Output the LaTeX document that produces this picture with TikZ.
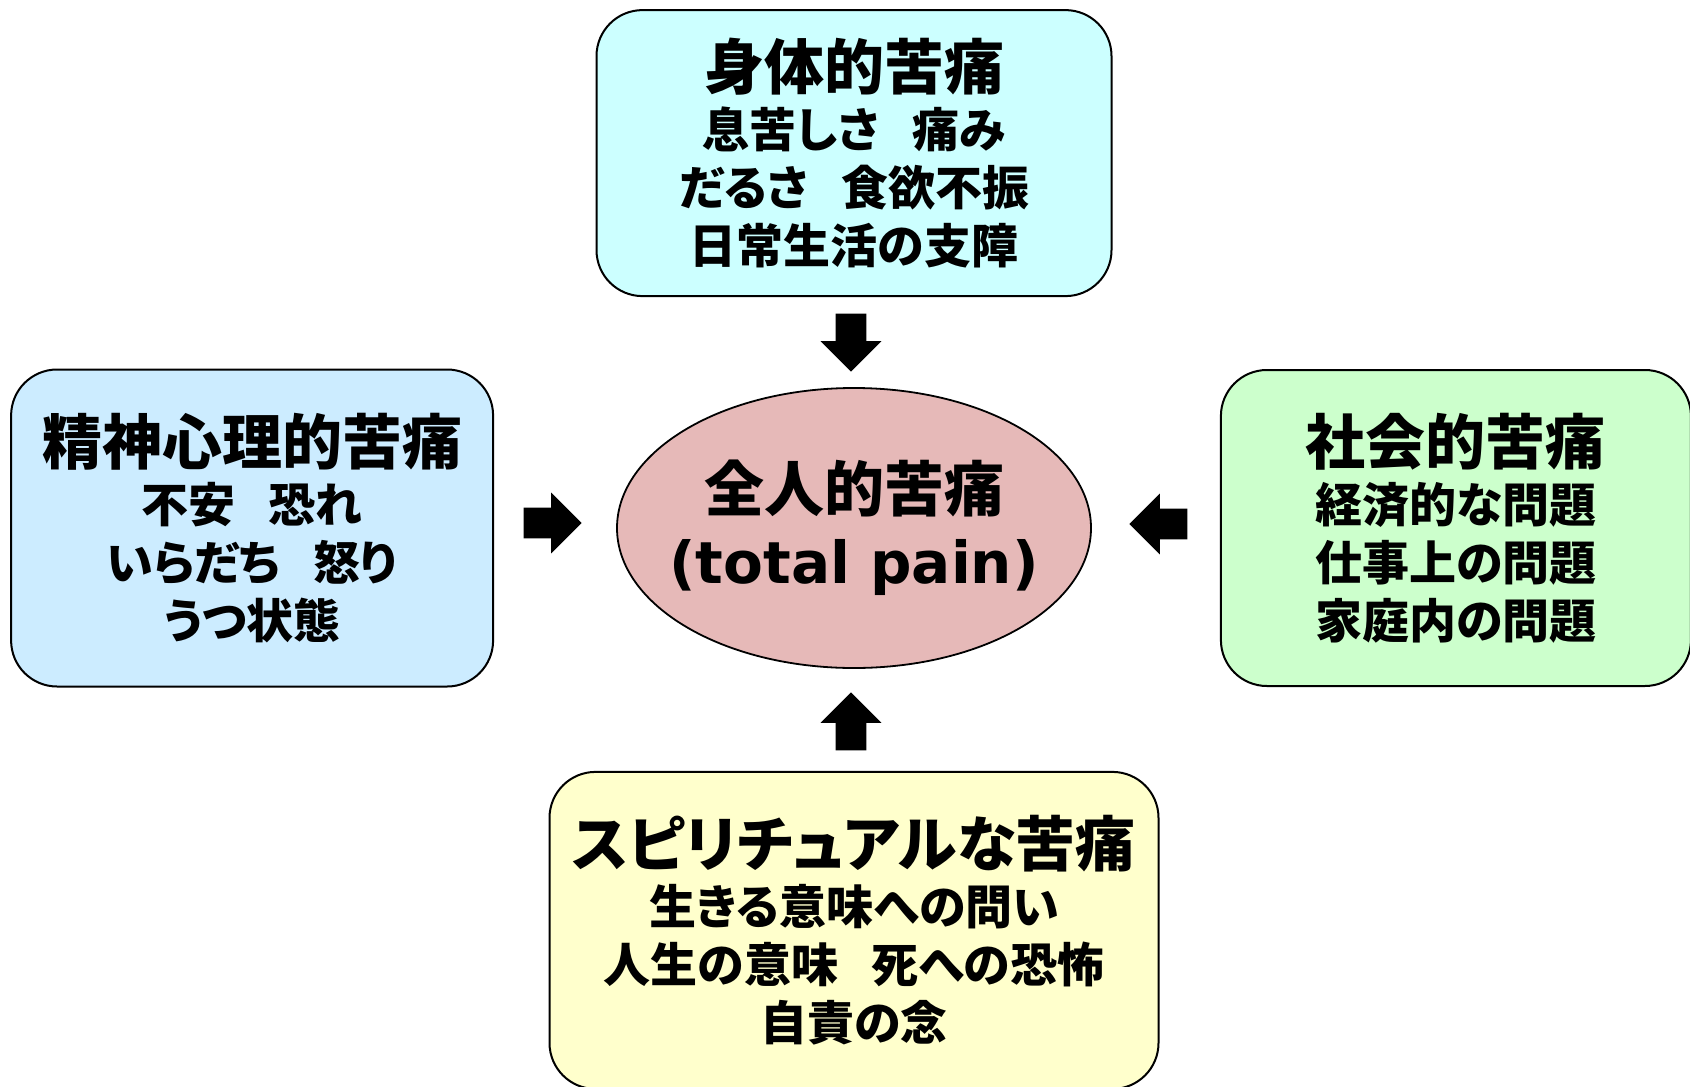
\documentclass[tikz,border=0pt]{standalone}
\usepackage{fontspec}
\newfontfamily\jpfont[RawFeature=+palt]{Noto Sans CJK JP}
\newfontfamily\enfont{DejaVu Sans}
\usetikzlibrary{positioning}
\usetikzlibrary{calc}
\usetikzlibrary{shapes}
\definecolor{physfill}{RGB}{204,255,255}
\definecolor{psyfill}{RGB}{204,236,255}
\definecolor{socfill}{RGB}{204,255,204}
\definecolor{spifill}{RGB}{255,255,204}
\definecolor{totfill}{RGB}{230,185,184}

\newcommand{\ptitle}[1]{{\fontsize{30}{34}\selectfont #1}\\}
\newcommand{\gap}{\hspace{0.7em}}

\begin{document}
\begin{tikzpicture}[x=0.5pt, y=-0.5pt,
		painbox/.style={rectangle, rounded corners=23pt, draw=black, line width=1pt, align=center,
			font=\jpfont\bfseries\fontsize{23.5}{29}\selectfont},
		total/.style={ellipse, draw=black, line width=0.9pt, fill=totfill, inner sep=0pt,
			minimum width=237pt, minimum height=140pt},
		fatarrow/.style={single arrow, fill=black, draw=none, inner xsep=0pt, inner ysep=7.5pt,
			minimum height=29pt, single arrow head extend=7.5pt, anchor=tip}
	]
		\useasboundingbox (0,0) rectangle (1690,1086);

		\node[total, label={[align=center, font=\jpfont\bfseries\fontsize{30}{36}\selectfont]center:{全人的苦痛\\{\enfont\fontsize{29}{36}\selectfont (total pain)}}}] (tot) at (854,528) {};
		\node[painbox, fill=physfill, minimum width=257.5pt, minimum height=143pt, above=45pt of tot] (phys)
			{\ptitle{身体的苦痛}息苦しさ\gap 痛み\\だるさ\gap 食欲不振\\日常生活の支障};
		\node[painbox, fill=psyfill, minimum width=241pt, minimum height=158.5pt, left=61pt of tot] (psych)
			{\ptitle{精神心理的苦痛}不安\gap 恐れ\\いらだち\gap 怒り\\うつ状態};
		\node[painbox, fill=socfill, minimum width=235pt, minimum height=158pt, right=64pt of tot] (social)
			{\ptitle{社会的苦痛}経済的な問題\\仕事上の問題\\家庭内の問題};
		\node[painbox, fill=spifill, minimum width=304.5pt, minimum height=158.5pt, below=51pt of tot] (spirit)
			{\ptitle{スピリチュアルな苦痛}生きる意味への問い\\人生の意味\gap 死への恐怖\\自責の念};

		\node[fatarrow, rotate=-90] (arrphys) at ($(tot.north)+(-3,-15)$) {};
		\node[fatarrow] (arrpsych) at ($(tot.west)+(-34,-5)$) {};
		\node[fatarrow, rotate=180] (arrsocial) at ($(tot.east)+(37,-4)$) {};
		\node[fatarrow, rotate=90] (arrspirit) at ($(tot.south)+(-3,23)$) {};
	\end{tikzpicture}
\end{document}
